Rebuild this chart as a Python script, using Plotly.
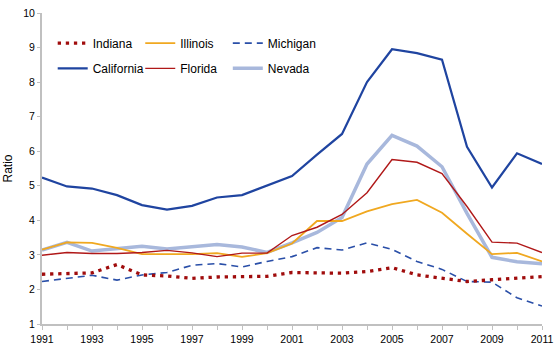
import plotly.graph_objects as go

years = list(range(1991, 2012))
indiana = [2.44, 2.46, 2.48, 2.72, 2.42, 2.39, 2.32, 2.36, 2.38, 2.38, 2.49, 2.49, 2.47, 2.52, 2.63, 2.42, 2.32, 2.23, 2.28, 2.32, 2.37]
illinois = [3.15, 3.36, 3.35, 3.20, 3.02, 3.02, 3.02, 3.05, 2.94, 3.05, 3.33, 3.98, 3.98, 4.26, 4.47, 4.59, 4.22, 3.61, 3.02, 3.06, 2.81]
michigan = [2.23, 2.32, 2.41, 2.27, 2.42, 2.49, 2.70, 2.75, 2.65, 2.81, 2.95, 3.21, 3.14, 3.35, 3.16, 2.81, 2.58, 2.23, 2.21, 1.76, 1.52]
california = [5.24, 4.98, 4.92, 4.73, 4.44, 4.31, 4.42, 4.66, 4.73, 5.00, 5.28, 5.90, 6.50, 8.00, 8.95, 8.84, 8.65, 6.13, 4.95, 5.94, 5.63]
florida = [2.99, 3.07, 3.04, 3.04, 3.07, 3.13, 3.06, 2.95, 3.05, 3.05, 3.56, 3.80, 4.17, 4.80, 5.76, 5.68, 5.35, 4.40, 3.37, 3.34, 3.07]
nevada = [3.14, 3.36, 3.11, 3.19, 3.25, 3.17, 3.23, 3.30, 3.23, 3.07, 3.35, 3.65, 4.08, 5.63, 6.46, 6.15, 5.55, 4.20, 2.93, 2.80, 2.74]

x_tickvals = list(range(1991, 2012, 2))
y_tickvals = list(range(1, 11))

font = dict(family="Liberation Sans, Arial, sans-serif", size=12, color="#000000")

# (name, data, line style, legend id, legend x, legend y)
series = [
    ("Nevada", nevada, dict(color="#a8b8dc", width=3.5), "legend6", 0.3716, 0.822),
    ("Illinois", illinois, dict(color="#f0a820", width=1.8), "legend2", 0.1965, 0.903),
    ("Florida", florida, dict(color="#b01818", width=1.4), "legend5", 0.1965, 0.822),
    ("Michigan", michigan, dict(color="#2a4fa8", width=1.6, dash="7px,5px"), "legend3", 0.3716, 0.903),
    ("California", california, dict(color="#1f44a0", width=2.2), "legend4", 0.0214, 0.822),
    ("Indiana", indiana, dict(color="#a00c0c", width=3.3, dash="3.3px,4.8px"), "legend", 0.0214, 0.903),
]

fig = go.Figure()
legends = {}
for name, data, line, leg, lx, ly in series:
    fig.add_trace(go.Scatter(x=years, y=data, name=name, mode="lines", line=line, legend=leg))
    legends[leg] = dict(x=lx, y=ly, xanchor="left", yanchor="middle", orientation="h",
                        font=font, bgcolor="rgba(0,0,0,0)", borderwidth=0,
                        itemclick=False, itemdoubleclick=False)

fig.update_layout(
    width=560, height=352,
    margin=dict(l=34, r=12, t=7, b=24),
    paper_bgcolor="white", plot_bgcolor="white",
    font=font,
    showlegend=True,
    xaxis=dict(range=[1991, 2011], tickvals=x_tickvals, ticktext=[str(v) for v in x_tickvals],
               showgrid=False, zeroline=False, showline=True, linecolor="#c0c0c0", linewidth=2,
               ticks="outside", ticklen=4, tickcolor="#c0c0c0", tickwidth=1,
               minor=dict(dtick=1, tick0=1991, ticks="outside", ticklen=4, tickcolor="#c0c0c0", tickwidth=1),
               tickfont=dict(size=10.5), fixedrange=True),
    yaxis=dict(range=[1, 10], tickvals=y_tickvals, showgrid=False, zeroline=False,
               showline=True, linecolor="#c0c0c0", linewidth=2,
               ticks="outside", ticklen=3, tickcolor="#c0c0c0", tickwidth=1,
               tickfont=dict(size=10.5),
               title=dict(text="Ratio", font=dict(size=12), standoff=8), fixedrange=True),
)
fig.update_layout(**legends)

fig.write_html("out.html")
